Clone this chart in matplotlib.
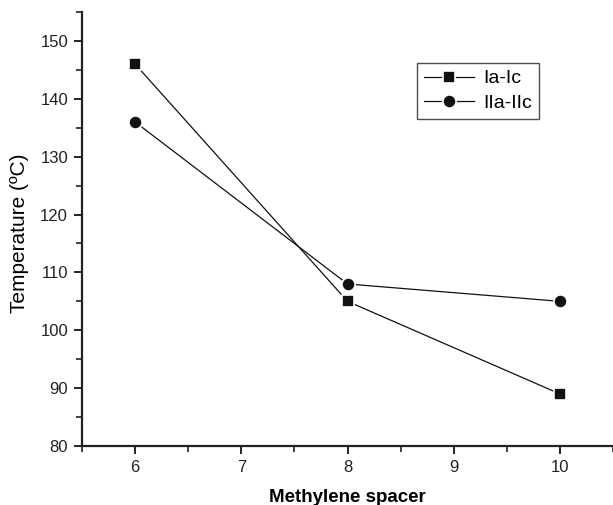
import matplotlib
matplotlib.use("Agg")
import matplotlib.pyplot as plt
from matplotlib.ticker import MultipleLocator

spacer = [6, 8, 10]
temp_ia_ic = [146, 105, 89]
temp_iia_iic = [136, 108, 105]
labels = ["Ia-Ic", "IIa-IIc"]

plt.rcParams["font.family"] = ["Liberation Sans", "DejaVu Sans"]

fig = plt.figure(figsize=(6.13, 5.05), dpi=100)
ax = fig.add_axes([82 / 613, 59 / 505, 531 / 613, 434 / 505])

line_kw = dict(color="#111111", linewidth=0.9, markeredgecolor="white",
               markerfacecolor="#111111", markeredgewidth=1.2)
ax.plot(spacer, temp_ia_ic, marker="s", markersize=8.5, label=labels[0], **line_kw)
ax.plot(spacer, temp_iia_iic, marker="o", markersize=9.5, label=labels[1], **line_kw)

ax.set_xlim(5.5, 10.5)
ax.set_ylim(80, 155)
ax.xaxis.set_major_locator(MultipleLocator(1))
ax.xaxis.set_minor_locator(MultipleLocator(0.5))
ax.yaxis.set_major_locator(MultipleLocator(10))
ax.yaxis.set_minor_locator(MultipleLocator(5))

for side in ("top", "right"):
    ax.spines[side].set_visible(False)
for side in ("left", "bottom"):
    ax.spines[side].set_linewidth(1.6)
    ax.spines[side].set_color("#222222")

ax.tick_params(which="major", direction="out", length=6, width=1.4,
               labelsize=12, colors="#222222", pad=4)
ax.tick_params(which="minor", direction="out", length=4, width=1.2, colors="#222222")

ax.set_xlabel("Methylene spacer", fontsize=13.5, fontweight="bold")
ax.xaxis.set_label_coords(0.5, -51 / 434)
ax.xaxis.label.set_verticalalignment("center")
ax.set_ylabel("Temperature (ºC)", fontsize=15)
ax.yaxis.set_label_coords(-53 / 531, 0.49)

leg = ax.legend(loc="upper left", bbox_to_anchor=(335 / 531, (505 - 59 - 63) / 434),
                frameon=True, fancybox=False, edgecolor="#222222", fontsize=14,
                borderpad=0.35, handlelength=2.6, handletextpad=0.45,
                labelspacing=0.35, borderaxespad=0)
leg.get_frame().set_linewidth(1.0)

fig.savefig("out.png", dpi=100)
